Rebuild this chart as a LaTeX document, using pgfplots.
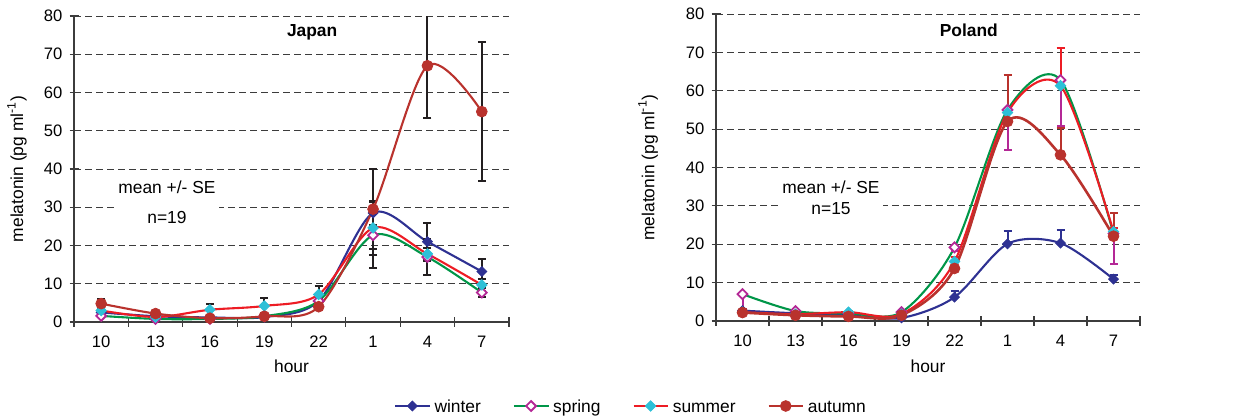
\documentclass[border=0pt]{standalone}
\usepackage{pgfplots}
\pgfplotsset{compat=1.18}
\usepackage{fontspec}
\setmainfont{Liberation Sans}
\definecolor{cwin}{RGB}{46,49,146}
\definecolor{cspr}{RGB}{0,150,72}
\definecolor{cmag}{RGB}{180,40,150}
\definecolor{csum}{RGB}{237,28,36}
\definecolor{ccya}{RGB}{45,192,215}
\definecolor{caut}{RGB}{185,50,45}
\definecolor{cerr}{RGB}{35,31,32}
\definecolor{cgrid}{RGB}{60,60,60}
\pgfplotsset{
  panel/.style={
    scale only axis,
    xmin=0.5, xmax=8.5, ymin=0, ymax=80,
    axis x line*=bottom, axis y line*=left,
    axis line style={draw=cgrid, line width=0.6pt},
    xtick={1,...,8},
    xticklabels={10,13,16,19,22,1,4,7},
    major x tick style={draw=none},
    minor xtick={0.5,1.5,2.5,3.5,4.5,5.5,6.5,7.5,8.5},
    minor x tick style={draw=cgrid, line width=0.6pt},
    minor tick length=5pt,
    tick align=center,
    ytick={0,10,...,80},
    major y tick style={draw=cgrid, line width=0.6pt},
    major tick length=4.5pt,
    ymajorgrids,
    major grid style={draw=cgrid, line width=0.5pt, dash pattern=on 3.3pt off 2.2pt},
    /pgf/number format/assume math mode=true,
    ticklabel style={font=\fontsize{8.3}{10}\selectfont},
    xticklabel style={anchor=center, yshift=-7.5pt},
    label style={font=\fontsize{8.7}{10}\selectfont},
    xlabel={hour},
    ylabel={melatonin (pg ml\textsuperscript{-1})},
    every axis plot/.append style={line width=1.05pt, smooth},
    error bars/y explicit,
    error bars/error mark options={rotate=90, mark size=2pt, line width=1pt},
  },
  swin/.style={color=cwin, mark=square*, mark size=1.75pt, mark options={rotate=45, fill=cwin, draw=cwin, line width=0.4pt}},
  sspr/.style={color=cspr, mark=square*, mark size=1.75pt, mark options={rotate=45, fill=white, draw=cmag, line width=0.9pt}},
  ssum/.style={color=csum, mark=square*, mark size=1.85pt, mark options={rotate=45, fill=ccya, draw=ccya, line width=0.4pt}},
  saut/.style={color=caut, mark=*, mark size=2.7pt, mark options={fill=caut, draw=caut, line width=0.4pt}},
}
\begin{document}
\begin{tikzpicture}
\path[use as bounding box] (0,0) rectangle (618pt,208.5pt);
% ---------------- Japan ----------------
\begin{axis}[panel,
  at={(37pt,47.5pt)}, anchor=south west,
  width=217.5pt, height=153pt,
  xlabel style={at={(axis description cs:0.5,-0.144)}, anchor=center},
  ylabel style={at={(axis description cs:-0.131,0.5)}, anchor=center},
  error bars/error bar style={draw=cerr, line width=1pt},
  error bars/error mark options={rotate=90, mark size=2pt, line width=1pt, draw=cerr},
  legend columns=4,
  legend style={draw=none, fill=none, at={(1.283,-0.2745)}, anchor=center,
    font=\fontsize{8.7}{10}\selectfont, inner sep=0pt,
    nodes={text height=1.7ex, text depth=0.45ex},
    /tikz/every even column/.append style={column sep=14pt}},
]
\addplot[swin, error bars/.cd, y dir=both] coordinates {
 (1,2.5) +- (0,0.4) (2,1.5) +- (0,0.3) (3,1.2) +- (0,0.3) (4,1.3) +- (0,0.3)
 (5,5.5) +- (0,0.8) (6,28.5) +- (0,3.2) (7,21.0) +- (0,5.0) (8,13.2) +- (0,3.4)};
\addlegendentry{winter}
\addplot[sspr, error bars/.cd, y dir=both] coordinates {
 (1,1.6) +- (0,0.3) (2,0.8) +- (0,0.2) (3,0.8) +- (0,0.2) (4,1.5) +- (0,0.3)
 (5,5.5) +- (0,0.5) (6,22.7) +- (0,8.7) (7,17.0) +- (0,4.6) (8,7.7) +- (0,1.2)};
\addlegendentry{spring}
\addplot[ssum, error bars/.cd, y dir=both] coordinates {
 (1,3.0) +- (0,0.4) (2,1.3) +- (0,0.3) (3,3.2) +- (0,1.4) (4,4.2) +- (0,2.2)
 (5,7.2) +- (0,2.1) (6,24.6) +- (0,7.1) (7,17.8) +- (0,1.5) (8,9.7) +- (0,1.6)};
\addlegendentry{summer}
\addplot[saut, error bars/.cd, y dir=both] coordinates {
 (1,4.8) +- (0,1.1) (2,2.2) +- (0,0.4) (3,1.0) +- (0,0.4) (4,1.5) +- (0,0.4)
 (5,4.0) +- (0,0.4) (6,29.5) +- (0,10.4) (7,67.0) +- (0,13.6) (8,55.0) +- (0,18.2)};
\addlegendentry{autumn}
\node[font=\bfseries\fontsize{8.7}{10}\selectfont] at (axis cs:4.88,75.8) {Japan};
\node[fill=white, align=center, inner sep=1.5pt, font=\fontsize{8.7}{15}\selectfont] at (axis cs:2.21,31.4) {mean +/- SE\\n=19};
\end{axis}
% ---------------- Poland ----------------
\begin{axis}[panel,
  at={(358pt,48pt)}, anchor=south west,
  width=212pt, height=153.5pt,
  xlabel style={at={(axis description cs:0.5,-0.147)}, anchor=center},
  ylabel style={at={(axis description cs:-0.160,0.5)}, anchor=center},
]
\addplot[swin, error bars/.cd, y dir=plus, error bar style={draw=cwin, line width=1pt},
  error mark options={rotate=90, mark size=2pt, line width=1pt, draw=cwin}] coordinates {
 (1,2.7) +- (0,0.4) (2,2.0) +- (0,0.3) (3,1.5) +- (0,0.3) (4,0.8) +- (0,0.3)
 (5,6.2) +- (0,1.6) (6,20.1) +- (0,3.4) (7,20.3) +- (0,3.4) (8,10.9) +- (0,1.1)};
\addplot[sspr, error bars/.cd, y dir=minus, error bar style={draw=cmag, line width=1pt},
  error mark options={rotate=90, mark size=2pt, line width=1pt, draw=cmag}] coordinates {
 (1,7.0) +- (0,4.0) (2,2.6) +- (0,0.3) (3,2.0) +- (0,0.3) (4,2.3) +- (0,0.3)
 (5,19.2) +- (0,1.0) (6,55.0) +- (0,10.4) (7,62.8) +- (0,12.0) (8,22.8) +- (0,8.0)};
\addplot[ssum, error bars/.cd, y dir=plus, error bar style={draw=csum, line width=1pt},
  error mark options={rotate=90, mark size=2pt, line width=1pt, draw=csum}] coordinates {
 (1,2.3) +- (0,0.3) (2,1.8) +- (0,0.3) (3,2.3) +- (0,0.3) (4,1.8) +- (0,0.3)
 (5,15.5) +- (0,1.3) (6,54.3) +- (0,1.0) (7,61.3) +- (0,9.8) (8,23.3) +- (0,1.0)};
\addplot[saut, line width=1.3pt, error bars/.cd, y dir=plus, error bar style={draw=caut, line width=1pt},
  error mark options={rotate=90, mark size=2pt, line width=1pt, draw=caut}] coordinates {
 (1,2.2) +- (0,0.3) (2,1.5) +- (0,0.3) (3,1.2) +- (0,0.3) (4,1.5) +- (0,0.3)
 (5,13.7) +- (0,0.5) (6,52.0) +- (0,12.0) (7,43.3) +- (0,7.1) (8,22.1) +- (0,6.0)};
\node[font=\bfseries\fontsize{8.7}{10}\selectfont] at (axis cs:5.27,75.8) {Poland};
\node[fill=white, align=center, inner sep=1.5pt, font=\fontsize{8.7}{10.5}\selectfont] at (axis cs:2.67,32.2) {mean +/- SE\\n=15};
\end{axis}
\end{tikzpicture}
\end{document}
